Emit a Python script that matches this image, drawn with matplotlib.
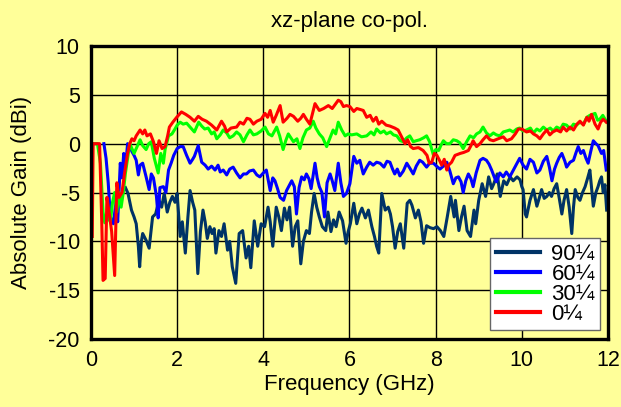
import numpy as np
import matplotlib
matplotlib.use('Agg')
import matplotlib.pyplot as plt

plt.rcParams['font.family'] = ['Liberation Sans', 'DejaVu Sans']
plt.rcParams['axes.unicode_minus'] = False

# 0 deg
f_0 = [0.03, 0.05, 0.1, 0.2, 0.25, 0.28, 0.33, 0.37, 0.42, 0.48, 0.55, 0.6, 0.65, 0.72, 0.78, 0.85, 0.9, 0.95, 1.0, 1.05,
       1.14, 1.2, 1.25, 1.3, 1.38, 1.45, 1.52, 1.58, 1.65, 1.72, 1.78, 1.82, 1.9, 1.99, 2.1, 2.2, 2.3, 2.4, 2.49, 2.58,
       2.68, 2.8, 2.92, 3.03, 3.1, 3.15, 3.25, 3.38, 3.46, 3.54, 3.62, 3.69, 3.77, 3.85, 3.95, 4.04, 4.1, 4.16, 4.23, 4.3,
       4.39, 4.46, 4.55, 4.62, 4.7, 4.8, 4.87, 4.93, 5.0, 5.08, 5.2, 5.3, 5.4, 5.51, 5.6, 5.74, 5.8, 5.86, 5.93, 6.01,
       6.1, 6.17, 6.25, 6.32, 6.4, 6.48, 6.55, 6.62, 6.68, 6.75, 6.85, 6.94, 7.05, 7.13, 7.22, 7.29, 7.35, 7.42, 7.48, 7.6,
       7.71, 7.8, 7.85, 7.91, 7.97, 8.03, 8.1, 8.14, 8.2, 8.26, 8.3, 8.37, 8.45, 8.57, 8.65, 8.76, 8.82, 8.87, 8.95, 9.03,
       9.1, 9.18, 9.26, 9.34, 9.45, 9.57, 9.65, 9.76, 9.85, 9.92, 10.0, 10.11, 10.2, 10.27, 10.35, 10.42, 10.5, 10.58, 10.65, 10.72,
       10.81, 10.9, 10.96, 11.04, 11.12, 11.2, 11.28, 11.35, 11.43, 11.51, 11.56, 11.62, 11.7, 11.77, 11.83, 11.89, 11.96]
g_0 = [-9.5, 0, 0, 0, -8, -14, -13.8, -5.5, -7, -9, -13.5, -4, -5.5, -5, -3, -1, 0, 0.5, 0.3, 0.8,
       1.4, 1.0, 1.4, 0.8, 1.0, 0.2, -1.0, 0.3, -0.5, -0.3, 0.8, 1.7, 2.2, 2.7, 3.25, 3.0, 2.7, 2.3, 2.8, 2.5,
       2.3, 1.9, 1.4, 2.3, 1.8, 1.2, 1.6, 1.7, 2.2, 2.0, 2.6, 2.5, 2.0, 2.3, 2.5, 3.1, 2.7, 3.4, 2.2, 2.9,
       3.9, 2.2, 2.6, 3.0, 2.8, 2.3, 2.6, 3.0, 2.5, 2.0, 4.1, 3.4, 3.6, 3.9, 3.6, 4.45, 4.3, 3.8, 3.9, 3.8,
       3.3, 3.6, 3.5, 3.4, 2.7, 2.9, 2.3, 2.7, 2.0, 2.3, 1.9, 1.8, 1.6, 1.4, 0.6, 0.0, 0.4, -0.3, -0.5, -0.4,
       -0.7, -1.2, -2.0, -1.9, -1.0, -1.2, -1.8, -2.2, -1.6, -2.7, -2.2, -1.9, -1.2, -1.0, -0.9, -0.7, -0.2, 0.3, -0.3, 0.0,
       0.4, 0.8, 0.4, 0.3, 0.5, 0.7, 0.3, 0.5, 1.0, 1.5, 1.5, 1.2, 1.3, 1.0, 0.8, 0.5, 1.0, 1.4, 0.9, 1.2,
       1.4, 1.2, 1.7, 1.3, 1.7, 1.4, 2.0, 2.3, 1.9, 2.7, 2.3, 3.0, 2.0, 1.5, 2.2, 2.5, 2.2]

# 30 deg
f_30 = [0.05, 0.15, 0.22, 0.28, 0.32, 0.38, 0.45, 0.5, 0.55, 0.6, 0.65, 0.7, 0.75, 0.8, 0.85, 0.9, 0.95, 1.0, 1.05, 1.14,
        1.2, 1.28, 1.34, 1.4, 1.47, 1.56, 1.62, 1.68, 1.72, 1.8, 1.88, 1.95, 2.0, 2.07, 2.14, 2.22, 2.3, 2.4, 2.5, 2.57,
        2.64, 2.72, 2.8, 2.86, 2.92, 3.0, 3.07, 3.15, 3.22, 3.3, 3.38, 3.46, 3.54, 3.62, 3.69, 3.77, 3.85, 3.95, 4.04, 4.12,
        4.2, 4.31, 4.38, 4.46, 4.52, 4.58, 4.64, 4.7, 4.78, 4.85, 4.92, 5.0, 5.08, 5.16, 5.22, 5.3, 5.38, 5.47, 5.55, 5.62,
        5.68, 5.74, 5.82, 5.9, 5.97, 6.05, 6.17, 6.28, 6.4, 6.5, 6.57, 6.63, 6.72, 6.8, 6.86, 6.95, 7.02, 7.1, 7.18, 7.25,
        7.33, 7.4, 7.48, 7.55, 7.63, 7.72, 7.79, 7.86, 7.95, 8.0, 8.07, 8.12, 8.18, 8.25, 8.33, 8.41, 8.49, 8.56, 8.64, 8.72,
        8.8, 8.88, 8.95, 9.03, 9.1, 9.18, 9.26, 9.34, 9.41, 9.49, 9.57, 9.65, 9.72, 9.8, 9.88, 9.95, 10.03, 10.11, 10.2, 10.27,
        10.35, 10.42, 10.5, 10.58, 10.66, 10.73, 10.81, 10.9, 10.96, 11.04, 11.12, 11.2, 11.27, 11.35, 11.43, 11.51, 11.58, 11.64, 11.7, 11.76,
        11.81, 11.88, 11.96]
g_30 = [0, 0, -2, -7, -8.1, -7.5, -8, -6, -5, -7, -5, -6.5, -5, -3, -1.5, 0, -0.5, -1.0, -0.5, 0.4,
        -0.2, -0.6, 0, 0.2, -1.5, -3.0, -1.0, -2.0, -0.6, 0.8, 1.0, 1.5, 1.9, 2.2, 2.0, 2.1, 1.7, 1.2, 2.2, 1.8,
        1.5, 1.6, 1.0, 1.2, 0.5, 0.9, 1.4, 1.1, 0.6, 0.8, 1.2, 0.9, 0.2, 0.9, 1.4, 0.9, 1.0, 1.3, 1.7, 1.0,
        0.8, 1.7, 0.8, -0.6, 0.3, 1.0, 0.6, 0.2, 0.5, -0.5, 0.6, 1.4, 1.6, 2.3, 1.6, 1.0, 0.6, -0.3, 0.6, 1.4,
        1.0, 2.2, 1.4, 0.8, 1.0, 0.9, 1.0, 0.7, 0.8, 1.2, 0.9, 1.5, 1.1, 1.3, 1.0, 1.2, 0.9, 0.8, 0.3, 0.2,
        0.6, 0.8, 0.2, 0.3, 0.4, 0.6, 0.8, 0.2, -1.2, -0.6, -0.7, -0.2, 0.3, 0.0, 0.0, 0.4, 0.3, 0.1, -0.5, 0.2,
        0.8, 0.6, 1.0, 1.2, 1.7, 1.1, 0.8, 1.1, 0.9, 0.8, 1.2, 1.3, 1.4, 1.2, 1.5, 1.6, 1.3, 1.4, 1.6, 1.1,
        1.5, 1.3, 1.7, 1.4, 1.6, 1.3, 1.7, 1.5, 2.0, 1.9, 1.5, 2.0, 1.9, 2.2, 2.0, 2.7, 2.9, 3.0, 3.1, 2.4,
        2.5, 2.9, 2.3]

# 60 deg
f_60 = [0.3, 0.35, 0.4, 0.45, 0.52, 0.58, 0.62, 0.68, 0.72, 0.76, 0.8, 0.85, 0.9, 0.95, 1.0, 1.05, 1.1, 1.14, 1.2, 1.28,
        1.35, 1.4, 1.45, 1.52, 1.56, 1.6, 1.68, 1.74, 1.8, 1.86, 1.92, 2.0, 2.07, 2.14, 2.22, 2.3, 2.36, 2.4, 2.49, 2.57,
        2.65, 2.72, 2.8, 2.88, 2.95, 3.0, 3.07, 3.15, 3.22, 3.3, 3.38, 3.46, 3.54, 3.61, 3.68, 3.77, 3.85, 3.92, 4.0, 4.07,
        4.16, 4.22, 4.27, 4.33, 4.39, 4.47, 4.54, 4.6, 4.66, 4.72, 4.77, 4.83, 4.89, 4.95, 5.0, 5.06, 5.11, 5.2, 5.25, 5.3,
        5.36, 5.42, 5.48, 5.55, 5.6, 5.66, 5.74, 5.8, 5.86, 5.93, 6.01, 6.06, 6.1, 6.17, 6.24, 6.32, 6.4, 6.47, 6.55, 6.63,
        6.71, 6.8, 6.87, 6.94, 7.0, 7.05, 7.11, 7.17, 7.25, 7.33, 7.4, 7.48, 7.55, 7.63, 7.7, 7.79, 7.86, 7.95, 8.02, 8.1,
        8.18, 8.26, 8.33, 8.41, 8.47, 8.53, 8.59, 8.64, 8.7, 8.76, 8.82, 8.87, 8.94, 9.03, 9.1, 9.18, 9.24, 9.3, 9.36, 9.41,
        9.49, 9.57, 9.64, 9.72, 9.78, 9.84, 9.9, 9.95, 10.03, 10.11, 10.19, 10.27, 10.35, 10.42, 10.5, 10.58, 10.64, 10.7, 10.76, 10.81,
        10.87, 10.93, 11.0, 11.04, 11.12, 11.2, 11.26, 11.31, 11.37, 11.43, 11.49, 11.54, 11.6, 11.66, 11.72, 11.77, 11.85, 11.9, 11.96]
g_60 = [0, -1.5, -4, -7.5, -8.2, -6, -8, -2.0, -3.5, -1.0, -2.5, 0.0, -0.3, -0.8, -1.2, -1.7, -3.2, -2.2, -2.0, -3.4,
        -4.7, -3.1, -3.5, -5.4, -7.6, -4.5, -4.4, -5.0, -2.7, -2.0, -1.2, -0.5, -0.3, -0.3, -1.2, -2.0, -1.6, -1.3, -0.2, -1.9,
        -2.2, -2.6, -2.3, -2.7, -2.2, -2.9, -2.7, -3.2, -2.6, -2.4, -3.0, -3.5, -3.1, -3.1, -2.8, -2.7, -3.2, -3.4, -3.0, -2.7,
        -4.8, -3.5, -3.8, -4.6, -5.5, -5.8, -4.8, -4.3, -3.8, -4.4, -7.2, -4.5, -3.4, -3.7, -3.1, -3.6, -4.6, -2.0, -3.5, -4.4,
        -5.0, -7.5, -4.0, -3.1, -3.8, -4.8, -2.0, -4.0, -5.4, -5.1, -4.1, -2.5, -1.3, -2.0, -1.7, -3.1, -2.4, -1.9, -2.2, -1.9,
        -2.0, -2.4, -1.8, -1.9, -2.6, -3.1, -2.6, -3.3, -2.8, -2.0, -2.5, -3.1, -2.3, -1.7, -1.9, -2.4, -2.0, -2.0, -2.3, -2.6,
        -2.3, -1.9, -2.8, -4.1, -3.5, -3.4, -3.9, -5.0, -3.8, -3.1, -3.6, -4.4, -3.0, -1.7, -1.5, -1.7, -2.1, -2.7, -3.4, -3.9,
        -3.0, -3.4, -2.9, -3.4, -2.9, -2.4, -1.9, -1.5, -2.2, -2.6, -1.6, -1.9, -3.0, -2.7, -1.8, -1.3, -2.4, -3.8, -2.6, -2.0,
        -1.4, -1.0, -1.8, -2.4, -1.9, -1.7, -0.9, -0.3, -1.0, -0.7, -1.5, -2.0, -0.8, 0.3, 0.0, -0.2, -1.0, -0.7, -2.7]

# 90 deg
f_90 = [0.8, 0.86, 0.94, 1.0, 1.05, 1.1, 1.13, 1.17, 1.2, 1.28, 1.35, 1.43, 1.5, 1.58, 1.64, 1.7, 1.77, 1.83, 1.89, 1.95,
        2.0, 2.07, 2.12, 2.19, 2.25, 2.3, 2.36, 2.41, 2.48, 2.54, 2.6, 2.65, 2.7, 2.76, 2.81, 2.86, 2.9, 2.97, 3.03, 3.09,
        3.17, 3.22, 3.28, 3.36, 3.44, 3.52, 3.6, 3.66, 3.71, 3.79, 3.87, 3.95, 4.03, 4.11, 4.16, 4.22, 4.3, 4.36, 4.42, 4.49,
        4.55, 4.61, 4.68, 4.74, 4.8, 4.87, 4.93, 5.0, 5.07, 5.12, 5.18, 5.24, 5.3, 5.37, 5.45, 5.5, 5.57, 5.63, 5.69, 5.76,
        5.84, 5.92, 5.97, 6.02, 6.1, 6.17, 6.23, 6.29, 6.37, 6.44, 6.52, 6.58, 6.63, 6.68, 6.75, 6.83, 6.9, 6.95, 7.0, 7.06,
        7.12, 7.18, 7.26, 7.34, 7.4, 7.45, 7.53, 7.6, 7.66, 7.72, 7.79, 7.87, 7.95, 8.03, 8.11, 8.19, 8.27, 8.35, 8.43, 8.46,
        8.54, 8.6, 8.66, 8.73, 8.81, 8.89, 8.93, 9.0, 9.08, 9.16, 9.23, 9.3, 9.35, 9.43, 9.5, 9.58, 9.65, 9.73, 9.8, 9.89,
        9.96, 10.0, 10.03, 10.08, 10.11, 10.19, 10.27, 10.35, 10.41, 10.46, 10.52, 10.58, 10.64, 10.69, 10.75, 10.81, 10.87, 10.93, 10.98, 11.04,
        11.1, 11.16, 11.2, 11.24, 11.3, 11.35, 11.41, 11.47, 11.53, 11.58, 11.62, 11.66, 11.72, 11.77, 11.81, 11.85, 11.89, 11.93, 11.97]
g_90 = [-4.5, -5.1, -6.8, -7.5, -8.2, -10.5, -12.6, -10.0, -9.2, -9.9, -10.7, -7.5, -7.2, -5.8, -6.5, -5.1, -7.0, -6.0, -5.4, -6.0,
        -5.1, -9.5, -8.0, -11.2, -7.5, -4.8, -6.0, -6.8, -13.3, -9.0, -6.8, -8.0, -9.7, -8.5, -9.2, -8.7, -11.2, -8.9, -9.5, -8.2,
        -10.9, -10.0, -12.6, -14.3, -9.2, -8.9, -11.7, -10.5, -12.7, -7.9, -10.5, -8.2, -8.5, -6.5, -8.0, -10.5, -6.5, -7.5, -8.9, -6.6,
        -7.8, -6.5, -10.5, -8.5, -7.9, -12.3, -10.0, -8.9, -9.2, -7.0, -5.1, -6.5, -7.5, -8.5, -8.9, -7.0, -9.0, -7.8, -8.5, -7.0,
        -7.9, -10.2, -9.0, -8.2, -6.1, -8.2, -7.2, -6.6, -7.6, -6.8, -8.5, -9.5, -10.5, -11.2, -5.1, -6.8, -6.5, -7.2, -8.5, -10.7,
        -9.0, -8.2, -10.7, -6.1, -5.8, -6.3, -7.6, -6.8, -8.0, -10.2, -8.4, -8.6, -8.7, -8.5, -8.9, -9.5, -7.5, -5.4, -7.5, -5.8,
        -8.9, -7.5, -6.4, -8.9, -9.5, -6.8, -8.2, -5.8, -4.1, -5.4, -3.4, -4.6, -4.1, -3.1, -5.4, -3.8, -4.2, -3.4, -3.8, -3.4,
        -3.7, -4.4, -4.7, -7.2, -7.5, -5.8, -4.7, -6.4, -5.5, -4.7, -5.6, -5.4, -5.0, -5.4, -4.6, -4.1, -5.6, -7.2, -5.8, -4.7,
        -6.5, -9.2, -6.5, -4.7, -5.5, -5.8, -5.0, -4.4, -3.5, -2.7, -4.5, -6.4, -5.0, -4.4, -3.8, -3.4, -5.0, -4.2, -6.8]

labels = ['90\u00bc', '60\u00bc', '30\u00bc', '0\u00bc']
colors = ['#003366', '#0000FF', '#00FF00', '#FF0000']

bg = '#FFFF99'
fig = plt.figure(figsize=(6.21, 4.07), dpi=100, facecolor=bg)
ax = fig.add_axes([0.1465, 0.167, 0.8325, 0.72])
ax.set_facecolor(bg)

series = [(f_90, g_90), (f_60, g_60), (f_30, g_30), (f_0, g_0)]
for (f, g), lab, c in zip(series, labels, colors):
    ax.plot(f, g, color=c, lw=2.2, label=lab)

ax.set_xlim(0, 12)
ax.set_ylim(-20, 10)
ax.set_xticks(np.arange(0, 13, 2))
ax.set_yticks(np.arange(-20, 11, 5))
ax.grid(True, color='black', lw=1.0)
ax.set_axisbelow(True)
ax.tick_params(length=0, labelsize=15.5, pad=8)
for s in ax.spines.values():
    s.set_linewidth(2.4)

ax.set_xlabel('Frequency (GHz)', fontsize=16, labelpad=2)
ax.set_ylabel('Absolute Gain (dBi)', fontsize=16, labelpad=12)
ax.set_title('xz-plane co-pol.', fontsize=16, pad=14)

leg = ax.legend(loc='lower right', bbox_to_anchor=(0.985, 0.03), borderaxespad=0,
                fontsize=16, fancybox=False, framealpha=1, edgecolor='#666666',
                handlelength=2.0, labelspacing=-0.05, borderpad=0.25, handletextpad=0.5)
leg.get_frame().set_linewidth(1.0)
for line in leg.get_lines():
    line.set_linewidth(3)

fig.savefig('out.png', dpi=100, facecolor=bg)
